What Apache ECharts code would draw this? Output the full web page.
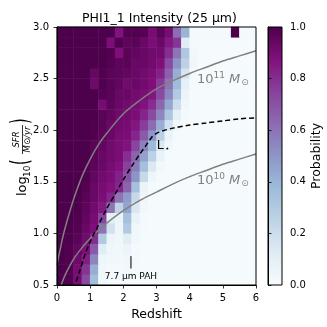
<!DOCTYPE html>
<html><head><meta charset="utf-8">
<script src="https://cdn.jsdelivr.net/npm/echarts@6/dist/echarts.min.js"></script>
<style>html,body{margin:0;padding:0;background:#fff}#c{width:327px;height:327px}</style>
</head><body><div id="c"></div>
<script>
// Redshift bin centres (width 0.25) and log10 SFR bin centres (height 0.1)
const redshiftBins = ['0.125','0.375','0.625','0.875','1.125','1.375','1.625','1.875','2.125','2.375','2.625','2.875','3.125','3.375','3.625','3.875','4.125','4.375','4.625','4.875','5.125','5.375','5.625','5.875'];
const sfrBins = ['0.55','0.65','0.75','0.85','0.95','1.05','1.15','1.25','1.35','1.45','1.55','1.65','1.75','1.85','1.95','2.05','2.15','2.25','2.35','2.45','2.55','2.65','2.75','2.85','2.95'];
// probability[row][col], row 0 = lowest SFR bin
const probability = [
 [1.00,0.99,0.90,0.72,0.36,0.03,0.01,0.01,0.02,0.01,0.01,0.01,0.01,0.01,0.01,0.01,0.01,0.01,0.01,0.01,0.01,0.01,0.01,0.01],
 [1.00,0.99,0.90,0.78,0.42,0.04,0.02,0.02,0.03,0.01,0.01,0.01,0.01,0.01,0.01,0.01,0.01,0.01,0.01,0.01,0.01,0.01,0.01,0.01],
 [1.00,0.99,0.92,0.84,0.55,0.05,0.03,0.03,0.04,0.02,0.01,0.01,0.01,0.01,0.01,0.01,0.01,0.01,0.01,0.01,0.01,0.01,0.01,0.01],
 [1.00,0.99,0.95,0.88,0.68,0.12,0.04,0.03,0.06,0.02,0.01,0.01,0.01,0.01,0.01,0.01,0.01,0.01,0.01,0.01,0.01,0.01,0.01,0.01],
 [1.00,1.00,0.97,0.91,0.80,0.30,0.06,0.04,0.12,0.03,0.01,0.01,0.01,0.01,0.01,0.01,0.01,0.01,0.01,0.01,0.01,0.01,0.01,0.01],
 [1.00,1.00,0.98,0.93,0.88,0.60,0.18,0.05,0.30,0.04,0.02,0.01,0.01,0.01,0.01,0.01,0.01,0.01,0.01,0.01,0.01,0.01,0.01,0.01],
 [1.00,1.00,0.99,0.95,0.90,0.74,0.10,0.06,0.35,0.08,0.02,0.01,0.01,0.01,0.01,0.01,0.01,0.01,0.01,0.01,0.01,0.01,0.01,0.01],
 [1.00,1.00,1.00,0.96,0.91,0.85,0.60,0.25,0.45,0.15,0.03,0.01,0.01,0.01,0.01,0.01,0.01,0.01,0.01,0.01,0.01,0.01,0.01,0.01],
 [1.00,1.00,1.00,0.97,0.93,0.89,0.82,0.60,0.48,0.22,0.05,0.01,0.01,0.01,0.01,0.01,0.01,0.01,0.01,0.01,0.01,0.01,0.01,0.01],
 [1.00,1.00,1.00,0.98,0.93,0.90,0.87,0.82,0.65,0.35,0.06,0.02,0.01,0.01,0.01,0.01,0.01,0.01,0.01,0.01,0.01,0.01,0.01,0.01],
 [1.00,1.00,1.00,0.99,0.95,0.91,0.89,0.83,0.70,0.50,0.22,0.05,0.01,0.01,0.01,0.01,0.01,0.01,0.01,0.01,0.01,0.01,0.01,0.01],
 [1.00,1.00,1.00,0.99,0.96,0.93,0.90,0.87,0.75,0.58,0.36,0.14,0.03,0.01,0.01,0.01,0.01,0.01,0.01,0.01,0.01,0.01,0.01,0.01],
 [1.00,1.00,1.00,1.00,0.97,0.93,0.91,0.89,0.80,0.65,0.46,0.26,0.08,0.01,0.01,0.01,0.01,0.01,0.01,0.01,0.01,0.01,0.01,0.01],
 [1.00,1.00,1.00,1.00,0.97,0.95,0.91,0.89,0.87,0.74,0.56,0.38,0.14,0.03,0.01,0.01,0.01,0.01,0.01,0.01,0.01,0.01,0.01,0.01],
 [1.00,1.00,1.00,1.00,0.99,0.96,0.93,0.90,0.89,0.82,0.68,0.50,0.26,0.07,0.01,0.01,0.01,0.01,0.01,0.01,0.01,0.01,0.01,0.01],
 [1.00,1.00,1.00,1.00,0.99,0.97,0.93,0.91,0.90,0.86,0.76,0.62,0.42,0.18,0.04,0.01,0.01,0.01,0.01,0.01,0.01,0.01,0.01,0.01],
 [1.00,1.00,1.00,1.00,1.00,0.97,0.95,0.92,0.91,0.89,0.82,0.72,0.54,0.32,0.10,0.02,0.01,0.01,0.01,0.01,0.01,0.01,0.01,0.01],
 [1.00,1.00,1.00,1.00,1.00,0.90,0.96,0.93,0.91,0.90,0.87,0.80,0.64,0.44,0.20,0.04,0.01,0.01,0.01,0.01,0.01,0.01,0.01,0.01],
 [1.00,1.00,1.00,1.00,1.00,0.98,0.97,0.93,0.93,0.91,0.89,0.86,0.72,0.54,0.30,0.06,0.01,0.01,0.01,0.01,0.01,0.01,0.01,0.01],
 [1.00,1.00,1.00,1.00,0.92,0.99,0.97,0.95,0.91,0.93,0.91,0.88,0.77,0.60,0.37,0.09,0.01,0.01,0.01,0.01,0.01,0.01,0.01,0.01],
 [1.00,1.00,1.00,1.00,0.94,0.99,0.97,0.96,0.95,0.93,0.91,0.89,0.83,0.66,0.42,0.16,0.02,0.01,0.01,0.01,0.01,0.01,0.01,0.01],
 [1.00,1.00,1.00,1.00,1.00,1.00,0.98,0.96,0.97,0.93,0.93,0.91,0.88,0.72,0.50,0.26,0.04,0.01,0.01,0.01,0.01,0.01,0.01,0.01],
 [1.00,1.00,1.00,1.00,1.00,1.00,0.99,0.88,0.97,0.95,0.93,0.91,0.91,0.80,0.60,0.31,0.03,0.01,0.01,0.01,0.01,0.01,0.01,0.01],
 [1.00,1.00,1.00,1.00,1.00,1.00,0.89,0.99,0.96,0.97,0.93,0.89,0.93,0.85,0.78,0.12,0.02,0.01,0.01,0.01,0.01,0.01,0.01,0.01],
 [1.00,1.00,1.00,1.00,1.00,1.00,1.00,0.87,0.99,0.99,0.98,0.90,0.97,0.90,0.62,0.40,0.02,0.02,0.02,0.02,0.02,1.00,0.02,0.02]
];
// Main-sequence tracks
const msRedshift = [0,0.05,0.1,0.15,0.25,0.5,0.75,1,1.25,1.5,2,2.5,3,3.5,4,4.5,5,5.5,6];
const ms1e11 = [0.69,0.78,0.85,0.93,1.06,1.33,1.55,1.72,1.86,1.97,2.16,2.29,2.40,2.48,2.55,2.61,2.67,2.72,2.77];
const ms1e10 = [0.38,0.43,0.48,0.52,0.60,0.75,0.86,0.95,1.03,1.10,1.22,1.32,1.40,1.48,1.55,1.61,1.67,1.72,1.77];
// L* (dashed) track
const lstarRedshift = [0.5,0.7,0.85,1.0,1.2,1.5,1.75,2.0,2.25,2.5,2.7,2.85,3.0,3.2,3.5,4.0,4.5,5.0,5.5,6.0];
const lstarSFR = [0.46,0.65,0.80,0.92,1.05,1.24,1.38,1.52,1.65,1.77,1.86,1.93,1.97,1.995,2.02,2.05,2.07,2.09,2.11,2.12];
// PAH marker
const pahRedshift = [2.23,2.23];
const pahSFR = [0.66,0.78];
const cbarColors = ['#f7fcfd','#e0ecf4','#bfd3e6','#9ebcda','#8c96c6','#8c6bb1','#88419d','#810f7c','#4d004b'];

const FONT = 'DejaVu Sans';
const chart = echarts.init(document.getElementById('c'), null, {renderer:'canvas'});
const heat = [];
probability.forEach((row, r) => row.forEach((v, c) => heat.push([c, r, v])));
const zip = (a, b) => a.map((v, i) => [v, b[i]]);

const axisCommon = {
  axisLine:{show:true, lineStyle:{color:'#000', width:1}},
  axisTick:{show:true, inside:false, length:3.5, lineStyle:{color:'#000', width:0.8}},
  axisLabel:{color:'#000', fontSize:10, fontFamily:FONT},
  splitLine:{show:false}
};

const option = {
  animation:false,
  backgroundColor:'#fff',
  title:{text:'PHI1_1 Intensity (25 μm)', left:77, top:7, textStyle:{fontSize:12.5, fontWeight:'normal', color:'#000', fontFamily:FONT}},
  grid:[
    {left:57, top:27, width:199, height:258, show:true, z:10, borderColor:'#000', borderWidth:1, backgroundColor:'transparent'},
    {left:268, top:27, width:14, height:258, show:true, borderColor:'#000', borderWidth:1,
     backgroundColor:{type:'linear', x:0, y:1, x2:0, y2:0, colorStops: cbarColors.map((c,i)=>({offset:i/(cbarColors.length-1), color:c}))}}
  ],
  xAxis:[
    {type:'category', gridIndex:0, data:redshiftBins, show:false},
    Object.assign({type:'value', gridIndex:0, min:0, max:6, interval:1, position:'bottom', z:12,
      name:'Redshift', nameLocation:'middle', nameGap:17, nameTextStyle:{fontSize:12.5, color:'#000', fontFamily:FONT}}, axisCommon),
    {type:'value', gridIndex:1, min:0, max:1, show:false}
  ],
  yAxis:[
    {type:'category', gridIndex:0, data:sfrBins, show:false},
    Object.assign({type:'value', gridIndex:0, min:0.5, max:3.0, interval:0.5, position:'left', z:12}, axisCommon,
      {axisLabel:{color:'#000', fontSize:10, fontFamily:FONT, formatter:v=>v.toFixed(1)}}),
    Object.assign({type:'value', gridIndex:1, min:0, max:1, interval:0.2, position:'right', z:12,
      name:'Probability', nameLocation:'middle', nameRotate:90, nameGap:25, nameTextStyle:{fontSize:12.5, color:'#000', fontFamily:FONT}}, axisCommon,
      {axisLabel:{color:'#000', fontSize:10, fontFamily:FONT, formatter:v=>v.toFixed(1)}})
  ],
  visualMap:{type:'continuous', min:0, max:1, show:false, seriesIndex:0, inRange:{color:cbarColors}},
  series:[
    {type:'heatmap', xAxisIndex:0, yAxisIndex:0, data:heat, itemStyle:{borderWidth:0}, emphasis:{disabled:true}},
    {type:'line', xAxisIndex:1, yAxisIndex:1, data:zip(msRedshift, ms1e11), smooth:0.3, symbol:'none', clip:true, lineStyle:{color:'#808080', width:1.5}, z:5},
    {type:'line', xAxisIndex:1, yAxisIndex:1, data:zip(msRedshift, ms1e10), smooth:0.3, symbol:'none', clip:true, lineStyle:{color:'#808080', width:1.5}, z:5},
    {type:'line', xAxisIndex:1, yAxisIndex:1, data:zip(lstarRedshift, lstarSFR), smooth:0.3, symbol:'none', clip:true, lineStyle:{color:'#000', width:1.5, type:[5,3]}, z:6},
    {type:'line', xAxisIndex:1, yAxisIndex:1, data:zip(pahRedshift, pahSFR), symbol:'none', clip:true, lineStyle:{color:'#000', width:1}, z:6}
  ]
};
chart.setOption(option);

const px = (z, s) => chart.convertToPixel({xAxisIndex:1, yAxisIndex:1}, [z, s]);
const p11 = px(4.22, 2.49), p10 = px(4.22, 1.51), pL = px(3.01, 1.845), pP = px(2.23, 0.585);
const massRich = {
  n:{fontSize:13, fontFamily:FONT, color:'#808080'},
  sup:{fontSize:9, fontFamily:FONT, color:'#808080', padding:[0,0,8,0]},
  m:{fontSize:13, fontFamily:FONT, fontStyle:'italic', color:'#808080'},
  sub:{fontSize:9, fontFamily:FONT, color:'#808080', padding:[6,0,0,1]}
};
const ylabel = {type:'group', x:22, y:154, rotation:Math.PI/2, z:50, children:[
  {type:'text', x:-42, y:0.5, style:{text:'log', fontSize:13, fontFamily:FONT, fill:'#000', align:'left', textAlign:'left', verticalAlign:'middle', textVerticalAlign:'middle'}},
  {type:'text', x:-23, y:6, style:{text:'10', fontSize:9, fontFamily:FONT, fill:'#000', align:'left', textAlign:'left', verticalAlign:'middle', textVerticalAlign:'middle'}},
  {type:'text', x:-11, y:0, scaleX:0.6, style:{text:'(', fontSize:24, fontFamily:FONT, fill:'#000', align:'left', textAlign:'left', verticalAlign:'middle', textVerticalAlign:'middle'}},
  {type:'text', x:14.5, y:-5, style:{text:'SFR', fontSize:8.5, fontStyle:'italic', fontFamily:FONT, fill:'#000', align:'center', textAlign:'center', verticalAlign:'middle', textVerticalAlign:'middle'}},
  {type:'line', shape:{x1:0, y1:0.5, x2:29, y2:0.5}, style:{stroke:'#000', lineWidth:0.8}},
  {type:'text', x:14.5, y:6, style:{text:'M⊙/yr', fontSize:8.5, fontStyle:'italic', fontFamily:FONT, fill:'#000', align:'center', textAlign:'center', verticalAlign:'middle', textVerticalAlign:'middle'}},
  {type:'text', x:30, y:0, scaleX:0.6, style:{text:')', fontSize:24, fontFamily:FONT, fill:'#000', align:'left', textAlign:'left', verticalAlign:'middle', textVerticalAlign:'middle'}}
]};
chart.setOption({graphic:[
  {type:'text', x:p11[0], y:p11[1], z:50, style:{text:'{n|10}{sup|11}{m| M}{sub|⊙}', rich:massRich, fill:'#808080', align:'left', textAlign:'left', verticalAlign:'middle', textVerticalAlign:'middle'}},
  {type:'text', x:p10[0], y:p10[1], z:50, style:{text:'{n|10}{sup|10}{m| M}{sub|⊙}', rich:massRich, fill:'#808080', align:'left', textAlign:'left', verticalAlign:'middle', textVerticalAlign:'middle'}},
  {type:'text', x:pL[0], y:pL[1], z:50, style:{text:'{a|L}{b|⋆}', rich:{a:{fontSize:12.5, fontFamily:FONT, color:'#000'}, b:{fontSize:8, fontFamily:FONT, color:'#000', padding:[5,0,0,1]}}, align:'left', textAlign:'left', verticalAlign:'middle', textVerticalAlign:'middle'}},
  {type:'text', x:pP[0], y:pP[1], z:50, style:{text:'7.7 μm PAH', fontSize:9, fontFamily:FONT, fill:'#000', align:'center', textAlign:'center', verticalAlign:'middle', textVerticalAlign:'middle'}},
  ylabel
]});
</script></body></html>
